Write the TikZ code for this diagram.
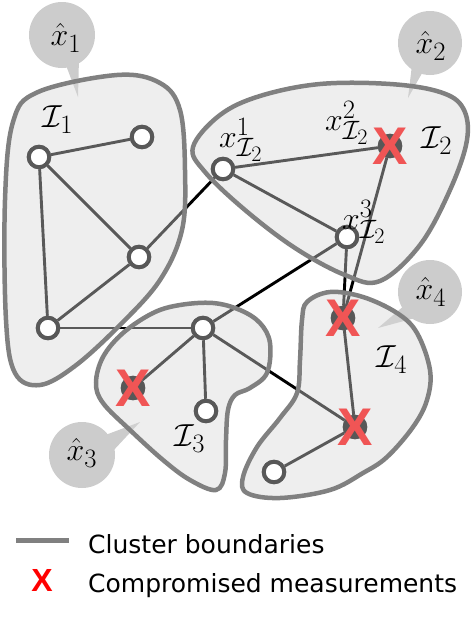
\documentclass[tikz,border=0pt]{standalone}
\usepackage{fontspec}
\newfontfamily\legfont{DejaVu Sans}
\newfontfamily\xfont{Liberation Sans}
\definecolor{clfill}{RGB}{214,214,214}
\definecolor{clline}{RGB}{128,128,128}
\definecolor{nodec}{RGB}{88,88,88}
\definecolor{bubc}{RGB}{204,204,204}
\definecolor{xred}{RGB}{240,85,85}
\tikzset{
  cluster/.style={fill=clfill, fill opacity=0.42, draw=clline, draw opacity=1, line width=4.5pt},
  edge/.style={line width=2.9pt, black},
  vtx/.style={circle, draw=nodec, line width=4pt, fill=white, minimum size=20.5pt, inner sep=0pt},
  badvtx/.style={vtx, fill=nodec},
  lab/.style={inner sep=0pt, font=\fontsize{24.88}{30}\selectfont, scale=1.28, transform shape},
  xmk/.style={inner sep=0pt, text=xred, font=\xfont\bfseries\fontsize{53}{54}\selectfont},
  bubble/.style={fill=bubc},
  legtext/.style={inner sep=0pt, anchor=base west, font=\legfont\fontsize{25}{28}\selectfont},
}
\begin{document}
\begin{tikzpicture}[x=1pt,y=-1pt]
\useasboundingbox (0,0) rectangle (476,635);
% bubbles
\fill[bubble] (62,35) circle (33);
\fill[bubble] (64,60) -- (78,97) -- (79,58) -- cycle;
\fill[bubble] (430,43) circle (32);
\fill[bubble] (412,65) -- (408,98) -- (425,68) -- cycle;
\fill[bubble] (82,455) circle (33);
\fill[bubble] (100,437) -- (140,422) -- (112,452) -- cycle;
\fill[bubble] (430,292) circle (32);
\fill[bubble] (405,305) -- (378,328) -- (415,318) -- cycle;
% vertices
\node[vtx] (A) at (39,157) {};
\node[vtx] (B) at (142,137) {};
\node[vtx] (C) at (139,257) {};
\node[vtx] (D) at (48,328) {};
\node[vtx] (E) at (223,169) {};
\node[badvtx] (F) at (390,146) {};
\node[vtx] (G) at (347,237) {};
\node[vtx] (H) at (203,328) {};
\node[badvtx] (K) at (133,388) {};
\node[vtx] (L) at (206,411) {};
\node[badvtx] (M) at (343,318) {};
\node[badvtx] (N) at (355,427) {};
\node[vtx] (P) at (274,472) {};
% edges
\foreach \a/\b in {A/B,A/C,A/D,D/C,C/E,D/H,E/F,E/G,G/H,G/M,F/M,H/K,H/L,H/N,M/N,N/P}
  \draw[edge] (\a) -- (\b);
% clusters
\draw[cluster] plot[smooth cycle, tension=0.6] coordinates {(5,200) (13,122) (38,92) (117,75) (160,83) (180,110) (185,170) (182,230) (160,280) (120,325) (75,366) (40,385) (15,373) (6,320)};
\draw[cluster] plot[smooth cycle, tension=0.6] coordinates {(193,147) (220,115) (260,96) (320,84) (390,84) (440,92) (463,108) (467,140) (450,190) (420,245) (380,281) (345,275) (295,248) (245,210) (205,172)};
\draw[cluster] plot[smooth cycle, tension=0.6] coordinates {(153,313) (180,305) (213,303) (240,310) (260,323) (270,343) (267,373) (250,388) (235,395) (228,410) (226,440) (225,473) (216,490) (190,480) (163,460) (130,430) (103,403) (96,383) (103,357) (123,333)};
\draw[cluster] plot[smooth cycle, tension=0.6] coordinates {(307,302) (330,292) (363,297) (397,313) (417,333) (430,370) (427,400) (413,427) (387,457) (363,473) (330,490) (280,498) (247,493) (243,477) (257,447) (280,418) (297,393) (300,360) (302,320)};
% redraw nodes on top
\foreach \n/\s in {A/vtx,B/vtx,C/vtx,D/vtx,E/vtx,F/badvtx,G/vtx,H/vtx,K/badvtx,L/vtx,M/badvtx,N/badvtx,P/vtx}
  \node[\s] at (\n) {};
% labels
\node[lab] (b1) at (66,38) {$\hat{x}_1$};
\node[lab] (b2) at (431,46) {$\hat{x}_2$};
\node[lab] (b3) at (82,453) {$\hat{x}_3$};
\node[lab] (b4) at (431,292) {$\hat{x}_4$};
\node[lab] (l1) at (58,120) {$\mathcal{I}_1$};
\node[lab] (l2) at (437,141) {$\mathcal{I}_2$};
\node[lab] (l3) at (190,439) {$\mathcal{I}_3$};
\node[lab] (l4) at (392,360) {$\mathcal{I}_4$};
\node[lab] (x1) at (241,140) {$x^1_{\mathcal{I}_2}$};
\node[lab] (x2) at (347,123) {$x^2_{\mathcal{I}_2}$};
\node[lab] (x3) at (364,222) {$x^3_{\mathcal{I}_2}$};
% compromised marks
\node[xmk] (xF) at (F) {X};
\node[xmk] (xK) at (K) {X};
\node[xmk] (xM) at (M) {X};
\node[xmk] (xN) at (N) {X};
% legend
\coordinate (lg1) at (16,540);
\coordinate (lg2) at (69,540);
\draw[line width=5pt, color=clline] (lg1) -- (lg2);
\node[legtext] (t1) at (88,553) {Cluster boundaries};
\node[inner sep=0pt, text=red, font=\xfont\bfseries\fontsize{32}{34}\selectfont] (lx) at (42,580) {X};
\node[legtext] (t2) at (88,592) {Compromised measurements};
\end{tikzpicture}
\end{document}
